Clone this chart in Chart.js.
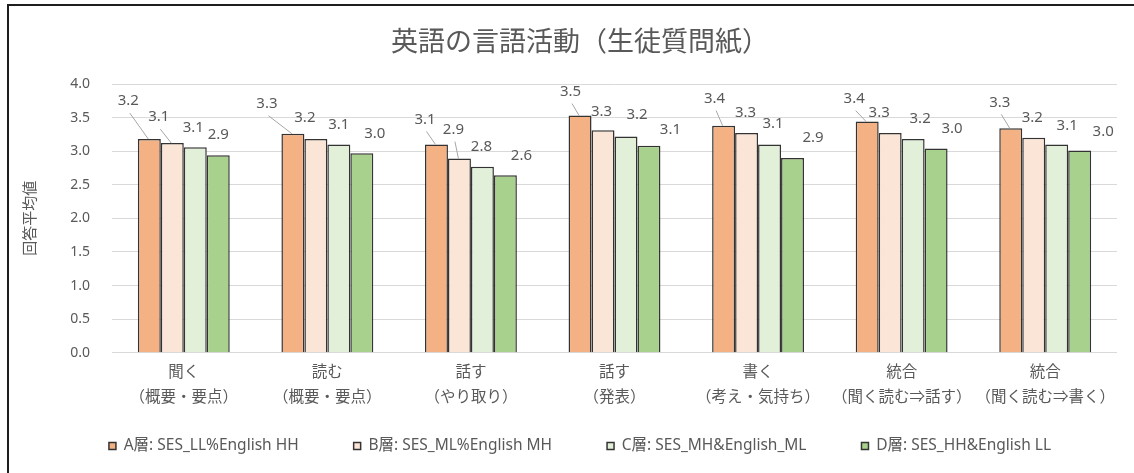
<!DOCTYPE html>
<html lang="ja">
<head>
<meta charset="utf-8">
<title>英語の言語活動（生徒質問紙）</title>
<script src="https://cdn.jsdelivr.net/npm/chart.js@4.4.1/dist/chart.umd.min.js"></script>
<style>
  html, body { margin: 0; padding: 0; background: #ffffff; overflow: hidden; }
  #wrap { position: relative; width: 1134px; height: 473px; }
  #chart { position: absolute; left: 0; top: 0; }
  #frame {
    position: absolute; left: 7px; top: 4px; width: 1300px; height: 700px;
    border-left: 2px solid #1e1e1e; border-top: 2px solid #1e1e1e;
    pointer-events: none; box-sizing: border-box;
  }
</style>
</head>
<body>
<div id="wrap">
  <canvas id="chart" width="1134" height="473"></canvas>
  <div id="frame"></div>
</div>
<script>
// Categories (two-line axis labels)
const categories = [
  ['聞く', '（概要・要点）'],
  ['読む', '（概要・要点）'],
  ['話す', '（やり取り）'],
  ['話す', '（発表）'],
  ['書く', '（考え・気持ち）'],
  ['統合', '（聞く読む⇒話す）'],
  ['統合', '（聞く読む⇒書く）']
];

// Series names
const seriesNames = [
  'A層: SES_LL%English HH',
  'B層: SES_ML%English MH',
  'C層: SES_MH&English_ML',
  'D層: SES_HH&English LL'
];

// Mean response values per group
const seriesA = [3.18, 3.26, 3.10, 3.53, 3.38, 3.44, 3.34];
const seriesB = [3.12, 3.18, 2.89, 3.31, 3.27, 3.27, 3.20];
const seriesC = [3.06, 3.10, 2.77, 3.22, 3.10, 3.18, 3.10];
const seriesD = [2.94, 2.97, 2.64, 3.08, 2.90, 3.04, 3.01];

// Y axis tick values
const yTicks = [0, 0.5, 1, 1.5, 2, 2.5, 3, 3.5, 4];

// Value-label placement relative to the top centre of each bar (px)
const labelOffsets = [
  [[-21, -38], [-26, -30], [-11.5, -25], [-9.5, -24], [-9, -27], [-13, -23], [-11, -26]],
  [[-13.5, -26], [-11, -21], [-6, -29], [-1.5, -19], [-1, -20], [-11, -20], [-1.5, -20]],
  [[-2, -19], [0, -20], [-1, -20], [11, -22], [3.5, -21], [7, -20], [10.5, -19]],
  [[0, -20], [13, -19], [16, -20], [21.5, -16], [20.5, -20], [16, -20], [23.5, -19]]
];
// Which labels get a leader line back to their bar
const leaderLines = [
  [true, true, true, true, true, true, true],
  [true, false, true, false, false, false, false],
  [false, false, false, false, false, false, false],
  [false, false, false, false, false, false, false]
];

const fills = ['#F4B183', '#FBE5D6', '#E2F0D9', '#A9D18E'];
const edge = '#333333';
const textGray = '#595959';
const FONT = "'Noto Sans', 'Noto Sans CJK JP', sans-serif";
const LEGEND_ROW_Y = 446;

const valueLabels = {
  id: 'valueLabels',
  afterDatasetsDraw(chart) {
    const ctx = chart.ctx;
    ctx.save();
    ctx.font = '15px ' + FONT;
    ctx.textAlign = 'center';
    ctx.textBaseline = 'middle';
    chart.data.datasets.forEach((ds, i) => {
      const meta = chart.getDatasetMeta(i);
      meta.data.forEach((bar, j) => {
        const [dx, dy] = labelOffsets[i][j];
        const lx = bar.x + dx, ly = bar.y + dy;
        if (leaderLines[i][j]) {
          ctx.strokeStyle = '#a6a6a6';
          ctx.lineWidth = 1;
          ctx.beginPath();
          ctx.moveTo(lx + 1.5, ly + 12);
          ctx.lineTo(bar.x - 1, bar.y);
          ctx.stroke();
        }
        ctx.fillStyle = textGray;
        ctx.fillText(ds.data[j].toFixed(1), lx, ly);
      });
    });
    ctx.restore();
  }
};

// Lift the legend row so it sits closer to the category labels
const legendRow = {
  id: 'legendRow',
  afterLayout(chart) {
    const lg = chart.legend;
    if (!lg) return;
    const opts = lg.options.labels;
    const size = opts.font.size;
    const top = LEGEND_ROW_Y - opts.padding - size / 2;
    lg.top = top;
    lg.bottom = top + lg.height;
  }
};

const seriesValues = [seriesA, seriesB, seriesC, seriesD];

new Chart(document.getElementById('chart'), {
  type: 'bar',
  data: {
    labels: categories,
    datasets: seriesValues.map((vals, i) => ({
      label: seriesNames[i],
      data: vals,
      backgroundColor: fills[i],
      borderColor: edge,
      borderWidth: 1.5,
      categoryPercentage: 0.64,
      barPercentage: 1.0
    }))
  },
  options: {
    responsive: false,
    animation: false,
    events: [],
    layout: { padding: { left: 43, right: 17, top: 0, bottom: -25 } },
    plugins: {
      title: {
        display: true,
        text: '英語の言語活動（生徒質問紙）',
        color: textGray,
        font: { family: FONT, size: 27, weight: 'normal', lineHeight: 1.2 },
        padding: { top: 27, bottom: 24.6 }
      },
      legend: {
        display: true,
        position: 'bottom',
        labels: {
          color: textGray,
          font: { family: FONT, size: 15.5 },
          boxWidth: 7,
          boxHeight: 7,
          padding: 55
        }
      },
      tooltip: { enabled: false }
    },
    scales: {
      x: {
        grid: { display: false, drawTicks: false },
        border: { display: false },
        ticks: {
          color: textGray,
          font: { family: FONT, size: 15.5, lineHeight: 1.67 },
          padding: 6.5,
          maxRotation: 0,
          autoSkip: false
        }
      },
      y: {
        min: 0,
        max: 4,
        afterBuildTicks(scale) { scale.ticks = yTicks.map(v => ({ value: v })); },
        grid: { color: '#d9d9d9', lineWidth: 1, drawTicks: false },
        border: { display: false },
        ticks: {
          color: textGray,
          font: { family: FONT, size: 14 },
          padding: 22,
          callback: v => v.toFixed(1)
        },
        title: {
          display: true,
          text: '回答平均値',
          color: textGray,
          font: { family: FONT, size: 15, lineHeight: 1.2 },
          padding: { top: -21, bottom: 0 }
        },
        afterFit(scale) { scale.width = 69; }
      }
    }
  },
  plugins: [valueLabels, legendRow]
});
</script>
</body>
</html>
